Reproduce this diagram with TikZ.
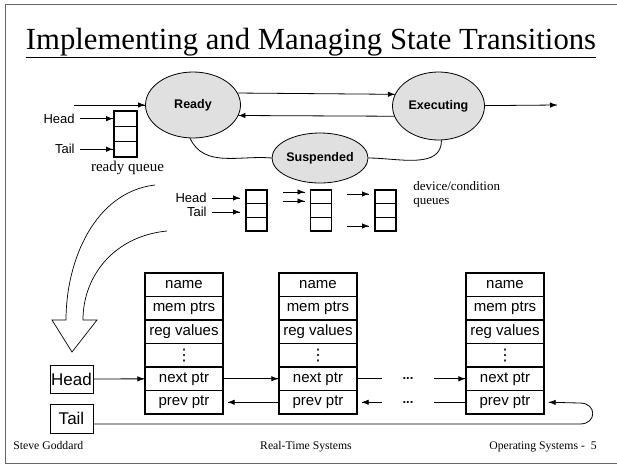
\documentclass[tikz,border=0pt]{standalone}
\usepackage{fontspec}
\setmainfont{Liberation Serif}
\setsansfont{Liberation Sans}
\newfontfamily\symfont{DejaVu Sans}
\tikzset{->/.style = {decoration={markings, mark=at position 1 with {\arrow{Latex[length=7pt,width=5.5pt]}}}, postaction={decorate}}}
\usetikzlibrary{calc,arrows.meta,
                 shapes.geometric,
                 decorations.markings}
\newcommand{\celldots}{{\symfont\fontsize{16}{16}\selectfont ⋮}}
\tikzset{state/.style = {ellipse, draw, fill=black!12, inner sep=0pt, font=\sffamily\bfseries\fontsize{12.5}{14}\selectfont},
         cell/.style = {draw, line width=1.3pt, minimum width=78pt, minimum height=23.5pt, inner sep=0pt, font=\sffamily\fontsize{15}{17}\selectfont},
         qcell/.style = {draw, line width=1.3pt, minimum width=21pt, minimum height=13.7pt, inner sep=0pt, outer sep=6pt},
         lbl/.style = {font=\sffamily\fontsize{13}{15}\selectfont, inner xsep=5pt, inner ysep=1pt},
         ptrbox/.style = {draw, line width=0.9pt, minimum width=43pt, minimum height=28pt, inner sep=0pt, font=\sffamily\fontsize{17}{19}\selectfont},
         dots/.style = {font=\sffamily\bfseries\fontsize{13}{15}\selectfont, inner sep=0pt, outer xsep=21pt},
         foot/.style = {font=\fontsize{11.7}{13}\selectfont, inner sep=0pt, anchor=base}}

\begin{document}
\begin{tikzpicture}[x=1pt, y=-1pt, line width=0.8pt]
      \useasboundingbox (0,0) rectangle (617,469);
      \draw [black!60, line width=0.6pt] (617,4) -- (5,4) -- (5,463) -- (617,463);
      % title
      \node [inner sep=0pt, anchor=base, font=\fontsize{30.7}{33}\selectfont] (title) at (311,49) {Implementing and Managing State Transitions};
      \draw [line width=1.2pt] ([yshift=-1.5pt]title.south west) -- ([yshift=-1.5pt]title.south east);
      % states
      \node [state, minimum width=95pt, minimum height=66pt] (ready) at (193,105) {Ready};
      \node [state, minimum width=92pt, minimum height=68pt] (exec) at (438.5,106) {Executing};
      \node [state, minimum width=96pt, minimum height=50pt] (susp) at (320,158) {Suspended};
      \coordinate (in) at (74,105);
      \coordinate (out) at (557,105);
      \draw [->] (in) -- (ready);
      \draw [->] (ready.15) -- (exec.165);
      \draw [->] (exec.193) -- (ready.-13);
      \draw [->] (exec) -- (out);
      \draw [->] (exec.-85) to [out=-90, in=0] (susp.east);
      \draw [->] (susp.west) to [out=175, in=-65] (ready.-95);
      % ready queue
      \foreach \j in {1,2,3}
        \node [qcell, minimum width=23pt, minimum height=15.3pt, outer sep=1pt] (rq\j) at (125.5, 103.35+15.3*\j) {};
      \node [lbl, anchor=east] (rqhead) at (rq1.west -| 80,0) {Head};
      \node [lbl, anchor=east] (rqtail) at (rq3.west -| 80,0) {Tail};
      \draw [->] (rqhead) -- (rq1);
      \draw [->] (rqtail) -- (rq3);
      \node [inner sep=0pt, anchor=base, font=\fontsize{15}{17}\selectfont] (rqname) at (127.5,171) {ready queue};
      % device/condition queues
      \foreach \q/\x in {1/256.5, 2/321, 3/385.5}
        \foreach \j/\r in {1/a, 2/b, 3/c}
          \node [qcell] (q\q\r) at (\x, 183.15+13.7*\j) {};
      \node [lbl, anchor=east] (qhead) at (212,198) {Head};
      \node [lbl, anchor=east] (qtail) at (212,212) {Tail};
      \draw [->] (qhead) -- (qhead -| q1a.west);
      \draw [->] (qtail) -- (qtail -| q1b.west);
      \coordinate (a1) at (283,192);
      \coordinate (a2) at (283,201);
      \coordinate (a3) at (347,194);
      \coordinate (a4) at (347,226);
      \draw [->] (a1) -- (a1 -| q2a.west);
      \draw [->] (a2) -- (a2 -| q2a.west);
      \draw [->] (a3) -- (a3 -| q3a.west);
      \draw [->] (a4) -- (a4 -| q3c.west);
      \node [inner sep=0pt, anchor=base west, align=left, font=\fontsize{13}{13.5}\selectfont] (qname) at (413,204) {device/condition\\queues};
      % hollow arrow
      \draw [line width=0.7pt] (155,185) .. controls (95,192) and (66,260) .. (66,320)
            -- (52,320) -- (72,352) -- (97,320) -- (83,320)
            .. controls (83,275) and (115,236) .. (167,231);
      % process control blocks
      \foreach \i/\x in {1/184, 2/318, 3/505}
        \foreach \j/\t in {1/name, 2/mem ptrs, 3/reg values, 4/\celldots, 5/next ptr, 6/prev ptr}
          \node [cell] (c\i r\j) at (\x, 273+23.5*\j-11.75) {\t};
      \node [ptrbox] (head) at (71.5,379) {Head};
      \node [ptrbox, minimum height=29pt] (tail) at (71.5,418.5) {Tail};
      \draw [->] (head) -- (c1r5);
      \draw [->] (c1r5) -- (c2r5);
      \draw [->] (c2r6) -- ($(c1r6.east)+(4,0)$);
      \node [dots] (dn) at (408,378.75) {...};
      \node [dots] (dp) at (408,402.25) {...};
      \draw (c2r5) -- (dn);
      \draw [->] (dn) -- (c3r5);
      \draw (c3r6) -- (dp);
      \draw [->] (dp) -- ($(c2r6.east)+(4,0)$);
      \draw [->] ([yshift=-5.5pt]tail.east) -- (580,424) .. controls (597,424) and (597,403) .. (580,403) -- ($(c3r6.east)+(4,0)$);
      % footer
      \node [foot, anchor=base west] (author) at (13,449) {Steve Goddard};
      \node [foot] (course) at (306,449) {Real-Time Systems};
      \node [foot, anchor=base east] (page) at (597,449) {Operating Systems -\ \ 5};
    \end{tikzpicture}
\end{document}
